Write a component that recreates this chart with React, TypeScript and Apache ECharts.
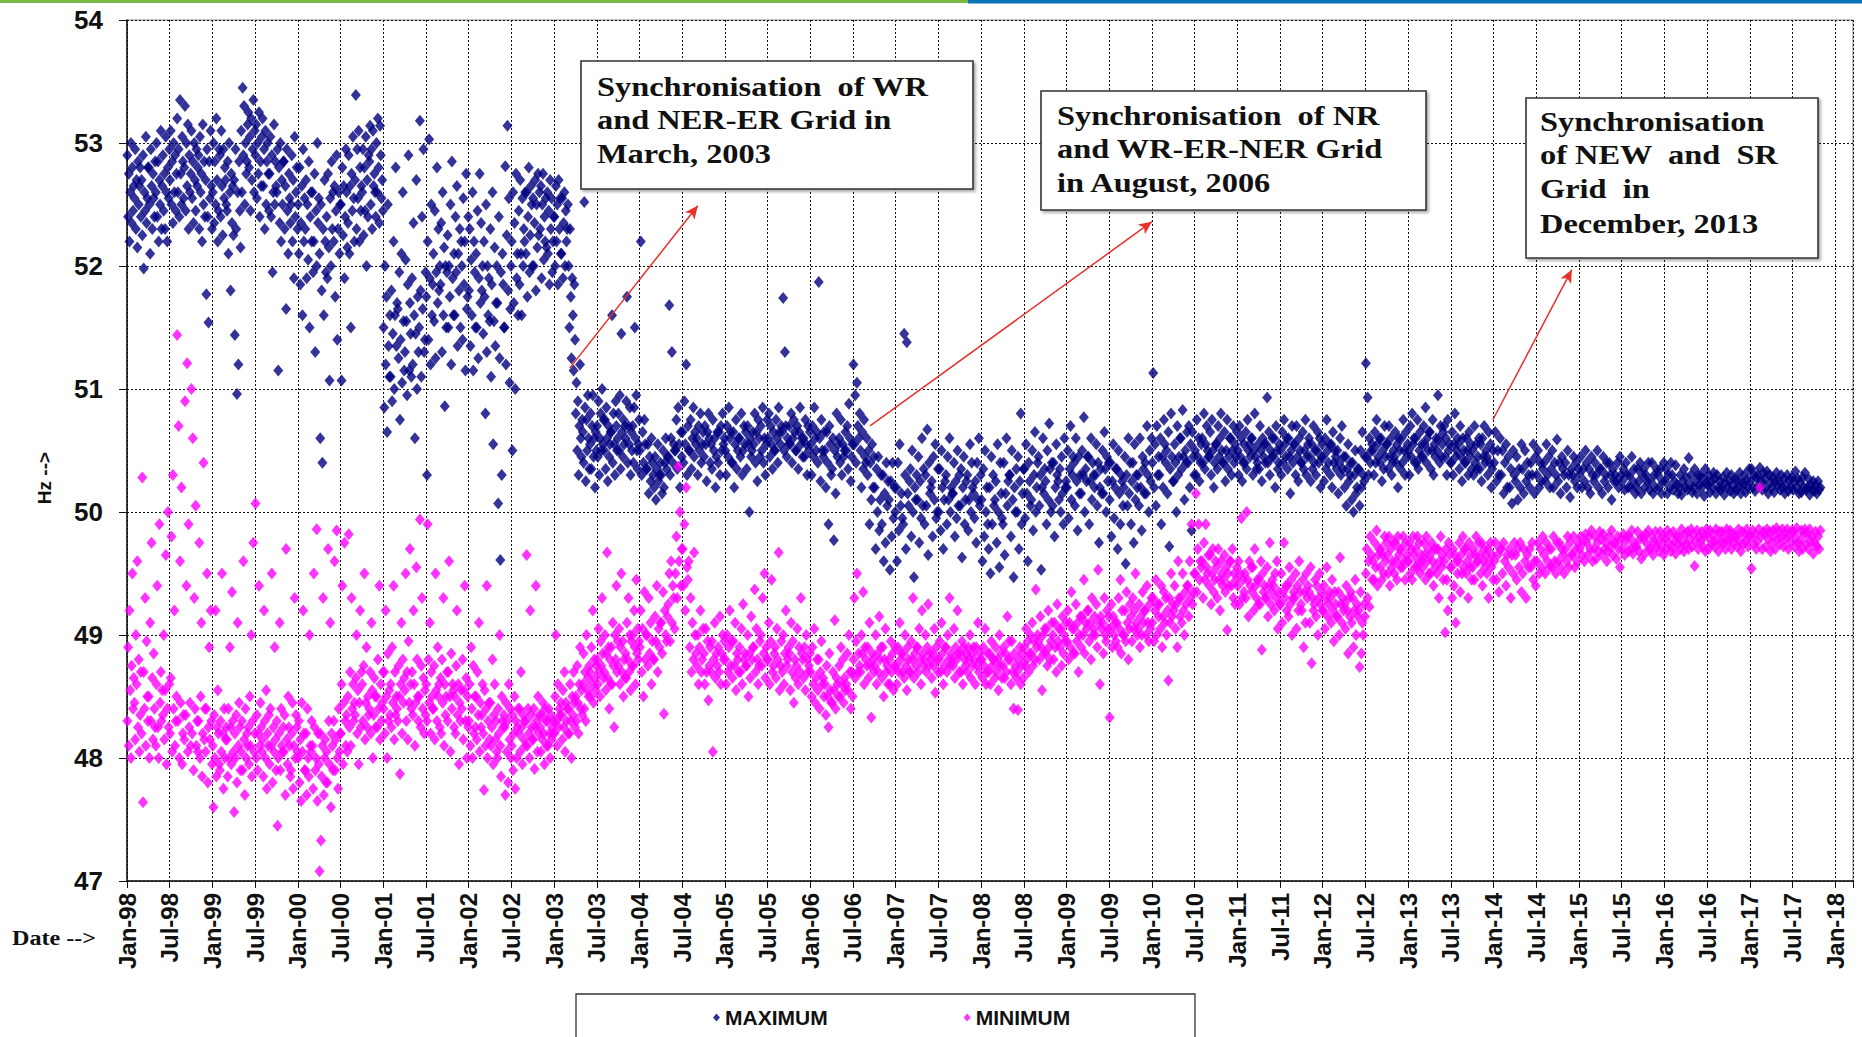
import React, { useEffect, useRef } from "react";
import * as echarts from "echarts";

// ---------- DATA (daily max / min frequency, Hz), grouped by year -> month ----------
const START_YEAR = 1998;

const max1998 = [
  [52.9, 52.4, 52.75, 52.2, 52.6, 53.0, 52.35, 52.8, 52.45, 52.65],
  [52.55, 52.95, 52.3, 52.7, 52.15, 52.85, 52.5, 52.65, 52.8, 52.4],
  [52.7, 52.25, 52.9, 51.98, 52.6, 52.45, 53.05, 52.35, 52.55, 52.8],
  [52.8, 52.5, 52.1, 52.95, 52.65, 52.3, 52.75, 52.55, 52.4, 52.85],
  [52.6, 53.0, 52.4, 52.85, 52.2, 52.7, 52.5, 53.1, 52.3, 52.65],
  [52.9, 52.45, 52.75, 52.3, 53.05, 52.6, 52.2, 52.8, 52.55, 52.95],
  [52.7, 53.1, 52.5, 52.85, 52.35, 53.0, 52.6, 52.9, 52.45, 52.75],
  [53.2, 52.6, 52.95, 52.4, 53.35, 52.75, 52.5, 53.05, 52.85, 52.55],
  [52.8, 53.3, 52.45, 53.0, 52.65, 53.15, 52.3, 52.9, 52.6, 52.75],
  [53.1, 52.55, 52.85, 52.35, 53.0, 52.7, 52.45, 52.95, 52.65, 52.8],
  [52.9, 52.3, 53.05, 52.6, 52.75, 52.2, 53.15, 52.5, 52.85, 52.4],
  [52.7, 51.77, 52.95, 52.4, 51.54, 52.85, 52.55, 53.1, 52.65, 52.3],
];
const max1999 = [
  [52.6, 53.0, 52.35, 52.85, 52.5, 53.2, 52.7, 52.2, 52.45, 52.95],
  [52.9, 52.4, 53.1, 52.65, 52.25, 52.95, 52.55, 52.8, 52.7, 52.5],
  [52.45, 52.85, 52.1, 53.0, 52.6, 51.8, 52.75, 52.35, 52.65, 52.25],
  [52.7, 51.44, 52.95, 52.3, 50.96, 52.6, 51.2, 52.85, 52.45, 52.15],
  [53.1, 52.6, 53.45, 52.9, 53.3, 52.5, 53.0, 52.75, 52.85, 53.15],
  [53.25, 52.8, 53.05, 52.45, 53.2, 52.7, 52.95, 53.35, 52.6, 53.1],
  [52.9, 53.15, 52.55, 53.0, 52.75, 53.25, 52.4, 52.85, 52.65, 53.05],
  [53.2, 52.65, 52.95, 52.3, 53.1, 52.5, 52.85, 53.0, 52.75, 52.45],
  [52.75, 53.05, 52.4, 52.9, 51.95, 52.6, 53.15, 52.5, 52.85, 52.65],
  [52.6, 52.95, 51.15, 52.8, 52.35, 53.0, 52.2, 52.7, 52.5, 52.85],
  [52.85, 52.3, 52.65, 51.65, 52.95, 52.45, 52.1, 52.75, 52.55, 52.35],
  [52.5, 52.9, 52.2, 52.7, 51.9, 53.05, 52.4, 52.6, 52.8, 52.3],
];
const max2000 = [
  [52.5, 52.1, 52.8, 51.85, 52.35, 52.65, 51.6, 52.95, 52.2, 52.55],
  [52.3, 52.7, 51.9, 52.5, 52.05, 52.85, 51.5, 52.4, 52.6, 52.2],
  [52.6, 51.95, 52.2, 52.75, 51.3, 52.45, 52.0, 53.0, 52.35, 52.55],
  [52.1, 50.6, 52.5, 51.8, 50.4, 52.3, 51.6, 52.7, 52.2, 51.95],
  [52.4, 51.9, 52.75, 52.15, 51.07, 52.55, 52.0, 52.85, 52.3, 52.6],
  [52.2, 52.65, 51.75, 52.45, 52.9, 51.4, 52.3, 52.6, 52.1, 52.5],
  [52.5, 51.07, 52.8, 52.25, 52.65, 51.9, 52.4, 52.95, 52.6, 52.15],
  [52.35, 52.9, 52.1, 52.65, 51.5, 52.75, 52.45, 53.05, 52.55, 52.2],
  [52.7, 53.39, 52.3, 52.95, 52.55, 53.1, 52.2, 52.8, 52.45, 52.65],
  [52.6, 52.95, 52.25, 52.8, 52.45, 53.05, 52.0, 52.7, 52.4, 52.9],
  [52.85, 53.14, 52.5, 52.95, 52.3, 53.1, 52.65, 52.75, 52.6, 52.4],
  [53.0, 52.6, 53.2, 52.8, 52.35, 53.14, 52.9, 52.55, 52.7, 52.45],
];
const max2001 = [
  [51.5, 50.85, 52.0, 51.2, 51.75, 50.65, 52.5, 51.35, 51.1, 51.6],
  [51.1, 51.8, 50.9, 51.45, 52.2, 51.0, 51.6, 52.8, 51.35, 51.7],
  [51.65, 51.25, 51.95, 50.75, 51.4, 52.1, 51.05, 52.6, 51.55, 51.15],
  [51.3, 52.05, 51.55, 50.95, 51.85, 52.9, 51.15, 51.7, 51.45, 51.1],
  [51.9, 51.2, 52.35, 51.6, 50.6, 51.45, 52.7, 51.0, 51.75, 51.3],
  [51.5, 53.18, 51.8, 51.1, 52.4, 51.65, 52.95, 51.3, 51.4, 51.95],
  [51.75, 50.3, 52.2, 51.4, 53.03, 51.9, 51.2, 52.5, 51.6, 51.85],
  [52.1, 51.55, 52.45, 51.25, 51.95, 52.8, 51.7, 52.3, 51.8, 52.0],
  [51.85, 52.35, 51.3, 52.6, 51.6, 52.15, 50.86, 52.0, 51.5, 51.95],
  [52.25, 51.5, 52.0, 51.75, 52.5, 51.2, 52.85, 51.9, 51.6, 52.1],
  [51.6, 52.4, 51.95, 52.65, 51.35, 52.1, 51.8, 52.3, 51.5, 52.2],
  [52.0, 51.4, 52.55, 51.85, 52.2, 51.15, 52.75, 51.65, 51.75, 52.4],
];
const max2002 = [
  [51.8, 52.3, 51.35, 52.05, 51.6, 52.6, 51.15, 52.2, 51.95, 51.5],
  [52.1, 51.5, 52.45, 51.25, 51.9, 52.75, 51.7, 52.35, 51.8, 52.0],
  [51.45, 52.2, 51.75, 50.8, 52.5, 51.3, 52.0, 51.6, 51.9, 51.55],
  [52.3, 51.1, 51.85, 52.6, 50.55, 51.55, 52.15, 51.35, 51.7, 52.0],
  [51.7, 50.07, 52.4, 51.25, 49.61, 51.95, 50.3, 52.1, 51.85, 51.5],
  [51.5, 52.81, 51.2, 52.25, 53.14, 51.8, 52.55, 51.05, 51.65, 52.0],
  [52.2, 50.5, 52.6, 51.7, 52.35, 51.0, 52.75, 51.9, 52.1, 51.6],
  [52.45, 51.85, 52.7, 52.1, 51.6, 52.55, 52.0, 52.3, 52.2, 52.6],
  [52.1, 52.6, 51.75, 52.4, 52.8, 51.95, 52.25, 52.65, 52.5, 52.0],
  [52.55, 52.0, 52.35, 52.7, 51.8, 52.5, 52.15, 52.75, 52.25, 52.6],
  [52.3, 52.65, 51.9, 52.5, 52.75, 52.05, 52.4, 52.2, 52.55, 52.15],
  [52.6, 52.1, 52.45, 51.85, 52.7, 52.3, 52.55, 51.95, 52.2, 52.4],
];
const max2003 = [
  [52.4, 52.0, 52.65, 52.2, 52.5, 51.85, 52.7, 52.3, 52.55, 52.1],
  [52.1, 52.55, 51.9, 52.35, 52.6, 52.0, 52.45, 52.2, 52.3, 52.5],
  [52.0, 51.5, 52.3, 51.75, 51.25, 51.9, 51.6, 51.15, 51.85, 51.4],
  [50.8, 51.05, 50.5, 50.9, 50.3, 50.7, 51.2, 50.6, 50.45, 50.75],
  [50.65, 50.4, 52.52, 50.85, 50.25, 50.75, 50.5, 50.95, 50.6, 50.35],
  [50.55, 50.8, 50.35, 50.7, 50.95, 50.45, 50.6, 50.2, 50.65, 50.5],
  [50.7, 50.45, 50.9, 50.3, 50.6, 50.8, 50.5, 51.0, 50.55, 50.75],
  [50.5, 50.75, 50.35, 50.85, 50.6, 50.25, 50.7, 50.45, 50.55, 50.65],
  [50.65, 51.6, 50.4, 50.8, 50.55, 50.3, 50.9, 50.7, 50.5, 50.6],
  [50.8, 50.5, 50.95, 50.35, 51.45, 50.65, 50.45, 50.75, 50.55, 50.7],
  [50.6, 50.9, 51.75, 50.4, 50.7, 50.55, 50.85, 50.3, 50.65, 50.5],
  [50.7, 50.4, 50.85, 51.5, 50.6, 50.95, 50.5, 50.35, 50.55, 50.75],
];
const max2004 = [
  [50.5, 52.2, 50.3, 50.65, 50.4, 50.75, 50.55, 50.35],
  [50.35, 50.55, 50.15, 50.45, 50.25, 50.6, 50.4, 50.3],
  [50.2, 50.45, 50.1, 50.35, 50.55, 50.25, 50.3, 50.4],
  [50.3, 50.15, 50.5, 50.2, 50.4, 50.6, 50.35, 50.45],
  [50.45, 51.68, 50.3, 50.6, 51.3, 50.4, 50.55, 50.5],
  [50.5, 50.75, 50.35, 50.85, 50.55, 50.2, 50.65, 50.45],
  [50.65, 50.4, 50.9, 50.55, 51.2, 50.3, 50.7, 50.5],
  [50.5, 50.75, 50.35, 50.6, 50.85, 50.45, 50.65, 50.55],
  [50.6, 50.3, 50.7, 50.5, 50.8, 50.4, 50.55, 50.65],
  [50.45, 50.7, 50.55, 50.25, 50.65, 50.8, 50.6, 50.4],
  [50.55, 50.35, 50.75, 50.5, 50.6, 50.2, 50.45, 50.65],
  [50.4, 50.65, 50.3, 50.7, 50.5, 50.8, 50.55, 50.6],
];
const max2005 = [
  [50.5, 50.3, 50.7, 50.45, 50.85, 50.6, 50.65, 50.4],
  [50.4, 50.65, 50.2, 50.55, 50.75, 50.35, 50.5, 50.6],
  [50.6, 50.45, 50.8, 50.3, 50.5, 50.7, 50.55, 50.65],
  [50.35, 50.7, 50.55, 50.0, 50.6, 50.45, 50.5, 50.65],
  [50.55, 50.8, 50.4, 50.65, 50.25, 50.75, 50.6, 50.45],
  [50.7, 50.5, 50.85, 50.4, 50.6, 50.3, 50.55, 50.75],
  [50.6, 50.8, 50.45, 50.7, 50.55, 50.35, 50.65, 50.5],
  [50.5, 50.75, 50.6, 50.4, 50.85, 50.65, 50.55, 50.7],
  [50.65, 51.74, 50.5, 51.3, 50.7, 50.45, 50.6, 50.55],
  [50.7, 50.55, 50.8, 50.4, 50.6, 50.75, 50.65, 50.5],
  [50.5, 50.7, 50.35, 50.65, 50.85, 50.55, 50.6, 50.45],
  [50.6, 50.45, 50.75, 50.55, 50.3, 50.7, 50.5, 50.65],
];
const max2006 = [
  [50.55, 50.3, 50.7, 50.45, 50.85, 50.6, 50.5, 50.65],
  [50.4, 51.87, 50.6, 50.25, 50.75, 50.5, 50.45, 50.65],
  [50.5, 50.2, 50.65, 50.4, 49.9, 50.7, 50.55, 50.3],
  [50.35, 50.6, 49.77, 50.5, 50.15, 50.8, 50.45, 50.55],
  [50.6, 50.4, 50.75, 50.3, 50.55, 50.45, 50.5, 50.65],
  [50.5, 50.7, 50.35, 50.88, 50.6, 50.25, 50.45, 50.55],
  [51.2, 50.55, 50.95, 50.4, 51.05, 50.7, 50.6, 50.8],
  [50.5, 50.2, 50.65, 50.35, 50.75, 50.45, 50.4, 50.6],
  [50.3, 50.5, 49.9, 50.4, 50.1, 50.55, 50.2, 50.45],
  [50.2, 49.7, 50.35, 50.0, 50.45, 49.85, 50.1, 50.3],
  [49.9, 50.3, 49.6, 50.15, 49.75, 50.4, 50.05, 50.25],
  [50.1, 49.53, 50.25, 49.8, 50.4, 49.95, 50.2, 50.0],
];
const max2007 = [
  [50.2, 49.6, 50.4, 49.85, 50.55, 50.05, 50.15, 49.95],
  [49.9, 51.45, 50.3, 49.7, 51.38, 50.15, 50.05, 50.25],
  [50.35, 49.8, 50.5, 50.0, 49.47, 50.2, 50.1, 50.3],
  [50.1, 50.45, 49.75, 50.25, 49.95, 50.6, 50.05, 50.35],
  [49.9, 50.3, 50.05, 50.67, 49.65, 50.4, 50.15, 50.2],
  [50.25, 49.8, 50.45, 50.1, 50.55, 49.95, 50.0, 50.35],
  [50.0, 50.35, 49.85, 50.5, 50.2, 49.7, 50.1, 50.25],
  [50.3, 49.9, 50.45, 50.1, 50.6, 50.0, 50.2, 50.15],
  [50.15, 50.4, 49.8, 50.25, 49.95, 50.5, 50.05, 50.3],
  [50.05, 50.35, 49.63, 50.2, 50.45, 49.9, 50.1, 50.25],
  [50.3, 49.85, 50.1, 50.55, 50.0, 50.4, 50.2, 50.15],
  [49.95, 50.25, 49.75, 50.4, 50.1, 50.6, 50.05, 50.3],
];
const max2008 = [
  [50.1, 49.6, 50.35, 49.8, 50.5, 50.0, 50.2, 49.9],
  [49.7, 50.2, 49.5, 50.45, 49.9, 50.3, 50.05, 50.1],
  [50.25, 49.75, 50.55, 50.0, 49.55, 50.4, 50.15, 49.95],
  [49.9, 50.4, 49.65, 50.15, 50.6, 50.05, 50.25, 50.3],
  [50.3, 49.8, 50.5, 50.1, 49.47, 50.2, 50.0, 50.35],
  [50.0, 50.45, 49.7, 50.25, 50.8, 49.9, 50.15, 50.35],
  [50.35, 49.95, 50.55, 50.15, 49.6, 50.4, 50.25, 50.05],
  [50.1, 50.5, 49.85, 50.3, 50.65, 50.0, 50.2, 50.4],
  [50.45, 50.05, 50.3, 49.53, 50.2, 50.6, 50.15, 50.35],
  [50.25, 49.9, 50.5, 50.1, 50.72, 50.35, 50.0, 50.4],
  [50.05, 50.4, 49.8, 50.2, 50.55, 50.3, 50.25, 50.1],
  [50.35, 50.0, 50.45, 50.15, 49.9, 50.6, 50.2, 50.25],
];
const max2009 = [
  [50.2, 50.5, 49.95, 50.35, 50.7, 50.1, 50.3, 50.45],
  [50.4, 50.05, 50.6, 50.25, 49.85, 50.45, 50.15, 50.3],
  [50.15, 50.5, 50.3, 50.77, 50.0, 50.35, 50.25, 50.45],
  [50.45, 49.9, 50.25, 50.6, 50.1, 50.4, 50.3, 50.2],
  [50.3, 50.55, 50.05, 50.4, 49.75, 50.2, 50.35, 50.15],
  [50.5, 50.15, 50.65, 50.35, 50.0, 50.45, 50.25, 50.4],
  [50.1, 50.4, 49.8, 50.25, 50.55, 49.95, 50.2, 50.35],
  [50.35, 49.7, 50.5, 50.15, 49.9, 50.3, 50.25, 50.05],
  [50.2, 50.45, 49.58, 50.3, 50.05, 50.6, 50.15, 50.4],
  [49.9, 50.25, 50.4, 49.75, 50.55, 50.1, 50.3, 50.2],
  [50.3, 50.05, 50.6, 50.2, 49.85, 50.45, 50.35, 50.15],
  [50.4, 50.15, 50.7, 50.3, 50.0, 50.5, 50.25, 50.6],
];
const max2010 = [
  [50.4, 51.13, 50.2, 50.55, 50.05, 50.7, 50.3, 50.45],
  [50.3, 50.6, 49.9, 50.45, 50.2, 50.75, 50.55, 50.4],
  [50.5, 50.15, 50.65, 49.72, 50.35, 50.8, 50.45, 50.25],
  [50.25, 50.55, 50.4, 50.0, 50.7, 50.3, 50.45, 50.6],
  [50.6, 50.35, 50.83, 50.45, 50.1, 50.5, 50.4, 50.65],
  [50.4, 50.7, 50.2, 50.55, 49.85, 50.65, 50.45, 50.3],
  [50.5, 50.3, 50.75, 50.45, 50.6, 50.25, 50.4, 50.55],
  [50.6, 50.4, 50.8, 50.35, 50.55, 50.7, 50.5, 50.45],
  [50.45, 50.65, 50.3, 50.75, 50.5, 50.2, 50.4, 50.55],
  [50.55, 50.35, 50.7, 50.45, 50.6, 50.8, 50.5, 50.4],
  [50.4, 50.65, 50.25, 50.5, 50.75, 50.35, 50.45, 50.6],
  [50.6, 50.3, 50.5, 50.7, 50.4, 50.55, 50.45, 50.65],
];
const max2011 = [
  [50.5, 50.3, 50.7, 50.45, 50.6, 50.25, 50.4, 50.55],
  [50.4, 50.65, 50.35, 50.75, 50.5, 50.55, 50.45, 50.6],
  [50.6, 50.3, 50.5, 50.8, 50.45, 50.35, 50.4, 50.55],
  [50.35, 50.7, 50.5, 50.25, 50.6, 50.45, 50.55, 50.4],
  [50.55, 50.93, 50.4, 50.65, 50.3, 50.5, 50.45, 50.6],
  [50.45, 50.6, 50.2, 50.7, 50.5, 50.35, 50.4, 50.55],
  [50.5, 50.3, 50.65, 50.4, 50.75, 50.55, 50.45, 50.6],
  [50.35, 50.6, 50.45, 50.15, 50.5, 50.7, 50.4, 50.55],
  [50.55, 50.3, 50.7, 50.45, 50.25, 50.6, 50.5, 50.4],
  [50.4, 50.65, 50.35, 50.5, 50.75, 50.3, 50.45, 50.55],
  [50.6, 50.45, 50.25, 50.55, 50.35, 50.7, 50.4, 50.5],
  [50.3, 50.5, 50.65, 50.4, 50.6, 50.2, 50.45, 50.55],
];
const max2012 = [
  [50.45, 50.25, 50.6, 50.35, 50.75, 50.5, 50.4, 50.55],
  [50.3, 50.55, 50.2, 50.65, 50.4, 50.5, 50.45, 50.35],
  [50.5, 50.15, 50.4, 50.6, 50.3, 50.7, 50.35, 50.45],
  [50.2, 50.45, 50.05, 50.35, 50.55, 50.25, 50.3, 50.4],
  [50.1, 50.4, 50.0, 50.3, 50.5, 50.15, 50.2, 50.35],
  [50.35, 50.05, 50.5, 50.2, 50.65, 50.3, 50.25, 50.45],
  [51.21, 50.45, 50.93, 50.3, 50.6, 50.4, 50.5, 50.55],
  [50.5, 50.3, 50.65, 50.4, 50.75, 50.55, 50.45, 50.6],
  [50.4, 50.6, 50.25, 50.5, 50.35, 50.7, 50.45, 50.55],
  [50.55, 50.35, 50.7, 50.45, 50.6, 50.3, 50.4, 50.5],
  [50.45, 50.65, 50.4, 50.55, 50.2, 50.6, 50.5, 50.35],
  [50.6, 50.4, 50.75, 50.5, 50.3, 50.65, 50.45, 50.55],
];
const max2013 = [
  [50.5, 50.3, 50.7, 50.45, 50.8, 50.55, 50.6, 50.4],
  [50.6, 50.4, 50.75, 50.35, 50.5, 50.65, 50.45, 50.55],
  [50.45, 50.7, 50.55, 50.85, 50.4, 50.6, 50.5, 50.65],
  [50.65, 50.35, 50.5, 50.75, 50.3, 50.55, 50.45, 50.6],
  [50.5, 50.95, 50.6, 50.4, 50.7, 50.45, 50.55, 50.65],
  [50.7, 50.45, 50.6, 50.3, 50.75, 50.5, 50.55, 50.4],
  [50.4, 50.65, 50.3, 50.55, 50.8, 50.45, 50.5, 50.6],
  [50.55, 50.35, 50.7, 50.45, 50.25, 50.6, 50.5, 50.4],
  [50.4, 50.6, 50.5, 50.3, 50.65, 50.45, 50.55, 50.35],
  [50.5, 50.3, 50.7, 50.4, 50.55, 50.35, 50.45, 50.6],
  [50.35, 50.55, 50.25, 50.6, 50.45, 50.7, 50.4, 50.5],
  [50.45, 50.3, 50.65, 50.4, 50.55, 50.2, 50.35, 50.5],
];
const max2014 = [
  [50.4, 50.65, 50.25, 50.5, 50.3, 50.6],
  [50.3, 50.5, 50.15, 50.4, 50.55, 50.2],
  [50.45, 50.2, 50.35, 50.07, 50.5, 50.3],
  [50.25, 50.45, 50.1, 50.35, 50.2, 50.55],
  [50.35, 50.15, 50.5, 50.25, 50.4, 50.3],
  [50.2, 50.4, 50.3, 50.55, 50.15, 50.45],
  [50.3, 50.5, 50.2, 50.4, 50.25, 50.35],
  [50.4, 50.25, 50.55, 50.3, 50.45, 50.2],
  [50.35, 50.5, 50.2, 50.4, 50.3, 50.59],
  [50.25, 50.4, 50.15, 50.45, 50.35, 50.3],
  [50.4, 50.2, 50.5, 50.3, 50.12, 50.35],
  [50.3, 50.45, 50.25, 50.4, 50.2, 50.35],
];
const max2015 = [
  [50.3, 50.45, 50.2, 50.35, 50.25, 50.5],
  [50.4, 50.2, 50.35, 50.15, 50.45, 50.3],
  [50.25, 50.4, 50.3, 50.5, 50.2, 50.35],
  [50.35, 50.15, 50.45, 50.25, 50.3, 50.4],
  [50.2, 50.4, 50.3, 50.1, 50.35, 50.25],
  [50.3, 50.25, 50.4, 50.2, 50.45, 50.3],
  [50.25, 50.35, 50.18, 50.4, 50.3, 50.2],
  [50.3, 50.2, 50.45, 50.25, 50.35, 50.15],
  [50.2, 50.35, 50.25, 50.4, 50.15, 50.3],
  [50.35, 50.2, 50.3, 50.25, 50.4, 50.18],
  [50.25, 50.4, 50.15, 50.3, 50.2, 50.35],
  [50.3, 50.2, 50.35, 50.15, 50.25, 50.4],
];
const max2016 = [
  [50.25, 50.35, 50.15, 50.3, 50.2, 50.4],
  [50.3, 50.18, 50.25, 50.38, 50.22, 50.15],
  [50.2, 50.3, 50.14, 50.25, 50.35, 50.2],
  [50.28, 50.18, 50.44, 50.22, 50.3, 50.16],
  [50.2, 50.35, 50.25, 50.15, 50.3, 50.22],
  [50.3, 50.2, 50.27, 50.13, 50.35, 50.24],
  [50.22, 50.3, 50.16, 50.25, 50.2, 50.32],
  [50.27, 50.15, 50.3, 50.2, 50.25, 50.18],
  [50.2, 50.28, 50.14, 50.24, 50.32, 50.2],
  [50.25, 50.17, 50.3, 50.22, 50.15, 50.27],
  [50.18, 50.26, 50.2, 50.32, 50.15, 50.24],
  [50.22, 50.3, 50.16, 50.26, 50.2, 50.35],
];
const max2017 = [
  [50.25, 50.35, 50.2, 50.3, 50.17, 50.28],
  [50.3, 50.22, 50.36, 50.25, 50.18, 50.32],
  [50.27, 50.2, 50.33, 50.15, 50.3, 50.24],
  [50.2, 50.28, 50.16, 50.25, 50.32, 50.22],
  [50.25, 50.18, 50.3, 50.2, 50.27, 50.15],
  [50.22, 50.3, 50.17, 50.26, 50.2, 50.28],
  [50.18, 50.25, 50.33, 50.2, 50.27, 50.15],
  [50.24, 50.16, 50.28, 50.2, 50.32, 50.18],
  [50.2, 50.27, 50.14, 50.22, 50.18, 50.25],
  [50.17, 50.22, 50.15, 50.25, 50.18, 50.2],
];

const min1998 = [
  [48.3, 48.9, 48.1, 49.2, 48.55, 48.0, 48.75, 49.5, 48.4, 48.65],
  [48.45, 48.15, 49.0, 48.6, 49.6, 48.25, 48.8, 48.05, 48.35, 48.7],
  [48.2, 50.28, 47.64, 48.7, 48.4, 49.3, 48.1, 48.95, 48.5, 48.3],
  [48.5, 48.0, 49.1, 48.3, 49.75, 48.65, 48.15, 48.85, 48.4, 48.25],
  [48.1, 48.6, 49.4, 48.25, 48.0, 49.9, 48.45, 48.7, 48.3, 48.55],
  [48.35, 49.0, 48.15, 48.55, 49.65, 47.95, 48.4, 50.0, 48.25, 48.6],
  [48.2, 48.65, 49.8, 48.05, 50.3, 48.4, 49.2, 48.1, 48.3, 48.5],
  [51.44, 48.3, 50.7, 48.0, 49.6, 48.45, 50.2, 47.95, 48.2, 48.35],
  [48.15, 50.9, 48.35, 49.4, 51.21, 48.05, 49.9, 48.25, 48.45, 48.1],
  [51.0, 48.2, 50.6, 47.9, 49.3, 48.4, 50.05, 48.1, 48.3, 48.05],
  [48.3, 49.75, 48.0, 48.5, 49.1, 47.85, 48.2, 50.4, 48.15, 48.4],
  [48.05, 48.4, 49.5, 47.8, 48.25, 48.9, 48.15, 49.2, 48.3, 47.95],
];
const min1999 = [
  [48.1, 47.6, 48.35, 48.0, 49.2, 47.85, 48.25, 48.55, 48.2, 47.95],
  [47.9, 48.3, 48.05, 49.5, 48.2, 47.75, 48.4, 48.0, 48.15, 48.25],
  [48.15, 47.85, 48.4, 48.0, 48.9, 48.25, 47.95, 49.35, 48.3, 48.05],
  [47.56, 48.2, 48.0, 48.35, 47.8, 49.1, 48.1, 48.45, 48.25, 47.9],
  [48.05, 48.3, 47.9, 49.6, 48.15, 47.7, 48.4, 48.0, 48.2, 48.1],
  [48.25, 47.95, 48.5, 48.1, 49.0, 47.85, 48.3, 49.75, 48.05, 48.2],
  [50.07, 48.0, 48.35, 47.9, 48.2, 49.4, 48.1, 48.45, 48.25, 48.05],
  [48.15, 47.85, 49.2, 48.3, 48.0, 48.55, 47.75, 48.2, 48.1, 48.35],
  [47.95, 48.4, 48.1, 49.5, 47.8, 48.25, 48.05, 48.9, 48.15, 47.9],
  [48.3, 47.45, 48.0, 48.2, 49.1, 47.9, 48.4, 48.1, 48.05, 48.25],
  [48.05, 48.35, 47.7, 49.7, 48.15, 47.95, 48.5, 48.25, 48.1, 47.85],
  [47.9, 48.2, 48.45, 47.75, 48.1, 49.3, 48.0, 48.35, 48.25, 48.05],
];
const min2000 = [
  [48.0, 48.3, 47.8, 48.15, 47.65, 48.45, 48.05, 49.2, 48.2, 47.9],
  [47.9, 48.2, 47.7, 48.4, 48.0, 47.85, 49.0, 48.1, 48.05, 48.3],
  [48.1, 47.75, 49.5, 48.25, 47.9, 48.0, 49.86, 47.65, 48.2, 47.95],
  [47.08, 48.2, 47.33, 47.85, 48.1, 49.3, 47.7, 48.0, 48.15, 47.8],
  [48.05, 47.8, 49.7, 48.3, 47.95, 49.1, 47.6, 48.2, 48.1, 47.9],
  [48.3, 49.6, 47.9, 48.15, 49.85, 48.0, 47.75, 48.4, 48.05, 48.2],
  [48.2, 48.6, 49.4, 47.95, 48.45, 49.75, 48.3, 48.1, 48.35, 48.05],
  [48.5, 49.82, 48.25, 48.7, 48.1, 49.3, 48.4, 48.6, 48.3, 48.45],
  [48.35, 48.65, 49.0, 48.2, 48.55, 47.95, 48.45, 49.2, 48.25, 48.7],
  [48.6, 48.3, 48.75, 49.5, 48.15, 48.45, 48.9, 48.25, 48.5, 48.35],
  [48.4, 48.7, 48.2, 49.1, 48.55, 48.0, 48.35, 48.65, 48.5, 48.25],
  [48.5, 48.25, 48.8, 48.4, 49.4, 48.15, 48.6, 48.3, 48.45, 48.7],
];
const min2001 = [
  [48.4, 48.7, 48.2, 49.2, 48.5, 48.0, 48.85, 48.3, 48.55, 48.35],
  [48.6, 48.25, 48.9, 48.45, 49.4, 48.15, 48.7, 48.35, 48.5, 48.4],
  [48.3, 48.75, 48.5, 47.87, 48.6, 49.1, 48.2, 48.8, 48.45, 48.65],
  [48.55, 49.5, 48.3, 48.7, 48.15, 48.95, 48.45, 49.7, 48.6, 48.4],
  [48.7, 48.35, 49.2, 48.6, 48.1, 48.45, 49.55, 48.8, 48.5, 48.3],
  [48.5, 49.94, 48.25, 48.75, 49.3, 48.4, 48.65, 48.2, 48.55, 48.35],
  [48.6, 48.3, 49.9, 48.8, 48.45, 49.1, 48.2, 48.7, 48.5, 48.4],
  [48.4, 48.75, 48.15, 49.5, 48.55, 48.3, 48.9, 48.5, 48.6, 48.25],
  [48.65, 48.2, 48.8, 48.45, 49.3, 48.1, 48.6, 48.35, 48.5, 48.7],
  [48.3, 48.7, 49.6, 48.5, 48.05, 48.85, 48.4, 48.6, 48.55, 48.25],
  [48.5, 48.2, 48.75, 49.2, 48.35, 48.6, 47.95, 48.45, 48.3, 48.55],
  [48.4, 48.8, 48.15, 48.55, 49.4, 48.3, 48.65, 48.0, 48.5, 48.25],
];
const min2002 = [
  [48.3, 48.6, 48.1, 48.9, 48.4, 48.0, 48.75, 48.2, 48.5, 48.25],
  [48.5, 48.15, 48.7, 48.35, 49.1, 48.05, 48.45, 48.25, 48.35, 48.6],
  [48.2, 47.74, 48.55, 48.1, 48.4, 49.4, 48.0, 48.3, 48.45, 48.15],
  [48.45, 48.1, 48.25, 48.8, 47.95, 48.35, 48.6, 48.15, 48.3, 48.05],
  [48.0, 48.4, 48.2, 49.0, 48.1, 47.85, 48.5, 48.3, 48.25, 48.35],
  [48.25, 47.7, 48.45, 48.05, 48.3, 47.8, 48.6, 48.15, 48.4, 48.0],
  [48.1, 48.35, 47.9, 48.2, 48.5, 47.75, 48.3, 48.0, 48.25, 48.4],
  [48.2, 48.4, 48.05, 48.7, 48.25, 47.95, 48.35, 48.15, 48.3, 48.1],
  [48.3, 49.65, 48.1, 48.4, 48.2, 48.0, 49.2, 48.35, 48.25, 48.15],
  [48.15, 48.4, 47.91, 48.25, 49.4, 48.3, 48.05, 48.5, 48.2, 48.35],
  [48.25, 48.05, 48.35, 48.15, 48.45, 48.2, 47.95, 48.4, 48.3, 48.1],
  [48.3, 48.1, 48.4, 48.2, 48.0, 48.35, 48.15, 48.25, 48.2, 48.3],
];
const min2003 = [
  [48.2, 48.5, 49.0, 48.3, 48.1, 48.6, 48.25, 48.4, 48.35, 48.45],
  [48.35, 48.15, 48.55, 48.25, 48.7, 48.05, 48.45, 48.3, 48.4, 48.2],
  [48.4, 48.2, 48.6, 48.3, 48.0, 48.5, 48.35, 48.7, 48.45, 48.25],
  [48.5, 48.3, 48.75, 48.45, 48.2, 48.6, 48.9, 48.4, 48.55, 48.35],
  [48.6, 48.85, 48.4, 48.7, 48.3, 49.0, 48.55, 48.65, 48.5, 48.75],
  [48.7, 48.5, 48.9, 48.6, 49.2, 48.45, 48.8, 48.65, 48.55, 48.75],
  [48.8, 48.6, 49.05, 48.7, 48.5, 48.95, 48.75, 49.3, 48.85, 48.65],
  [48.7, 49.0, 48.55, 48.85, 49.67, 48.65, 48.9, 48.4, 48.8, 48.6],
  [48.9, 48.6, 49.1, 48.75, 48.25, 49.0, 48.8, 49.4, 48.7, 48.95],
  [48.75, 49.05, 48.6, 48.9, 49.5, 48.7, 48.95, 48.5, 48.8, 48.65],
  [48.85, 48.65, 49.1, 48.8, 49.3, 48.7, 49.0, 48.55, 48.95, 48.75],
  [49.0, 48.75, 49.2, 48.9, 48.6, 49.45, 48.85, 49.05, 48.8, 48.95],
];
const min2004 = [
  [48.9, 49.2, 48.7, 49.05, 48.5, 49.35, 48.8, 49.0],
  [49.0, 48.75, 49.3, 48.85, 49.1, 48.6, 48.95, 48.8],
  [48.8, 49.15, 48.95, 49.4, 48.7, 49.05, 48.9, 49.1],
  [49.1, 48.85, 49.35, 48.36, 49.2, 49.0, 48.95, 49.15],
  [49.25, 49.5, 48.95, 49.6, 49.1, 49.4, 49.3, 49.05],
  [49.5, 49.8, 49.3, 50.37, 49.6, 50.0, 49.4, 49.7],
  [49.7, 49.4, 49.9, 49.2, 50.2, 49.55, 49.45, 49.6],
  [48.9, 49.3, 48.7, 49.1, 48.8, 49.67, 49.0, 48.85],
  [48.75, 49.0, 48.6, 48.9, 49.2, 48.7, 48.8, 49.05],
  [48.85, 48.6, 49.05, 48.7, 48.95, 48.47, 48.75, 48.9],
  [48.7, 48.95, 48.05, 48.8, 49.1, 48.65, 48.85, 48.75],
  [48.9, 48.7, 49.15, 48.6, 48.85, 49.0, 48.8, 48.95],
];
const min2005 = [
  [48.8, 48.6, 49.0, 48.7, 48.9, 49.2, 48.75, 48.95],
  [48.65, 48.95, 48.75, 49.1, 48.55, 48.85, 48.8, 48.7],
  [48.9, 48.7, 49.05, 48.6, 49.25, 48.8, 48.85, 48.75],
  [48.75, 49.0, 48.5, 48.85, 48.65, 49.15, 48.8, 48.9],
  [48.9, 49.37, 48.7, 49.05, 48.8, 48.6, 48.75, 48.95],
  [49.0, 48.75, 49.3, 48.85, 49.5, 48.65, 48.9, 48.8],
  [48.8, 49.1, 48.6, 48.95, 49.45, 48.7, 48.75, 48.85],
  [48.9, 48.65, 49.05, 48.8, 49.67, 48.55, 48.75, 48.95],
  [48.7, 49.0, 48.6, 48.85, 49.2, 48.75, 48.8, 48.9],
  [48.85, 48.55, 49.1, 48.7, 48.95, 48.45, 48.8, 48.65],
  [48.75, 49.05, 48.6, 48.9, 48.7, 49.3, 48.85, 48.8],
  [48.65, 48.9, 48.55, 49.0, 48.8, 48.7, 48.75, 48.85],
];
const min2006 = [
  [48.7, 48.5, 48.9, 48.6, 49.05, 48.45, 48.65, 48.8],
  [48.55, 48.8, 48.4, 48.7, 48.95, 48.6, 48.65, 48.5],
  [48.6, 48.35, 48.75, 48.5, 48.25, 48.85, 48.55, 48.45],
  [48.45, 48.7, 48.55, 49.12, 48.4, 48.65, 48.6, 48.5],
  [48.75, 48.5, 48.9, 48.6, 48.8, 48.45, 48.65, 48.55],
  [48.6, 48.85, 48.55, 49.0, 48.7, 48.4, 48.7, 48.5],
  [48.8, 49.3, 48.65, 48.95, 49.5, 48.7, 48.85, 48.75],
  [48.7, 49.0, 48.85, 49.35, 48.6, 48.9, 48.8, 48.75],
  [48.9, 48.65, 49.1, 48.75, 48.33, 48.85, 48.8, 48.7],
  [48.75, 49.0, 48.6, 48.85, 48.7, 49.15, 48.8, 48.9],
  [48.65, 48.9, 48.5, 48.8, 49.05, 48.7, 48.75, 48.6],
  [48.8, 48.6, 48.95, 48.7, 48.85, 48.55, 48.75, 48.9],
];
const min2007 = [
  [48.75, 48.6, 48.9, 48.7, 49.1, 48.8, 48.85, 48.7],
  [48.85, 48.65, 49.0, 48.75, 48.55, 48.9, 48.8, 48.7],
  [48.7, 48.95, 48.8, 49.3, 48.65, 48.85, 48.75, 48.9],
  [48.9, 48.7, 49.05, 48.8, 48.6, 49.2, 48.85, 48.75],
  [48.8, 49.0, 48.7, 48.9, 49.25, 48.75, 48.85, 48.8],
  [48.65, 48.85, 48.75, 49.05, 48.53, 48.9, 48.8, 48.7],
  [48.8, 48.95, 48.7, 49.1, 48.85, 48.6, 48.75, 48.9],
  [48.9, 48.7, 49.0, 48.8, 49.3, 48.75, 48.85, 48.8],
  [48.75, 49.05, 48.65, 48.9, 48.8, 49.2, 48.85, 48.7],
  [48.85, 48.7, 48.95, 48.6, 48.9, 48.8, 48.75, 48.85],
  [48.7, 48.9, 48.8, 49.0, 48.65, 48.85, 48.75, 48.9],
  [48.8, 48.6, 48.9, 48.75, 49.1, 48.7, 48.85, 48.8],
];
const min2008 = [
  [48.8, 48.65, 48.9, 48.75, 49.05, 48.6, 48.7, 48.85],
  [48.7, 48.85, 48.6, 48.95, 48.75, 48.8, 48.8, 48.65],
  [48.9, 48.7, 48.8, 48.55, 49.0, 48.75, 48.85, 48.65],
  [48.75, 48.9, 48.65, 48.85, 48.7, 49.15, 48.8, 48.95],
  [48.8, 48.6, 48.95, 48.7, 48.4, 48.85, 48.75, 48.65],
  [48.7, 48.39, 48.8, 48.9, 48.6, 48.75, 48.85, 48.65],
  [48.9, 48.75, 49.05, 48.8, 48.95, 48.7, 48.85, 49.0],
  [48.85, 49.1, 48.75, 48.95, 48.8, 49.37, 48.9, 49.0],
  [48.95, 48.8, 49.15, 48.9, 48.55, 49.0, 48.85, 49.05],
  [48.85, 49.05, 48.75, 49.2, 48.9, 48.8, 48.95, 49.1],
  [49.0, 48.8, 49.1, 48.9, 48.7, 49.25, 48.95, 49.05],
  [48.9, 49.05, 48.75, 49.15, 48.85, 49.0, 48.95, 49.1],
];
const min2009 = [
  [48.95, 49.2, 48.8, 49.1, 48.9, 49.35, 49.05, 48.85],
  [49.05, 48.85, 49.25, 48.95, 49.1, 48.7, 49.0, 49.15],
  [48.9, 49.15, 49.0, 49.45, 48.85, 49.1, 49.05, 49.2],
  [49.2, 48.95, 49.1, 48.8, 49.3, 49.0, 49.05, 49.15],
  [49.0, 49.25, 48.9, 49.53, 49.1, 48.6, 49.15, 49.05],
  [49.1, 48.85, 49.3, 49.0, 48.95, 49.2, 49.05, 49.15],
  [48.33, 49.05, 49.25, 48.9, 49.15, 49.0, 49.1, 48.95],
  [49.1, 48.9, 49.3, 49.05, 49.45, 48.85, 49.2, 49.0],
  [49.0, 49.2, 48.95, 49.35, 49.1, 48.8, 49.05, 49.25],
  [49.15, 48.95, 49.3, 49.05, 49.2, 49.5, 49.1, 49.0],
  [49.05, 49.25, 48.9, 49.15, 49.0, 49.35, 49.1, 49.2],
  [49.2, 49.0, 49.4, 49.1, 48.95, 49.25, 49.05, 49.3],
];
const min2010 = [
  [49.1, 49.3, 48.95, 49.2, 49.45, 49.0, 49.25, 49.15],
  [49.25, 49.05, 49.4, 48.9, 49.15, 49.35, 49.1, 49.3],
  [49.0, 49.2, 48.63, 49.3, 49.1, 49.5, 49.15, 49.25],
  [49.2, 49.4, 49.05, 49.25, 48.9, 49.6, 49.3, 49.15],
  [49.3, 49.1, 49.5, 49.2, 49.0, 49.35, 49.25, 49.4],
  [49.4, 49.15, 49.6, 49.3, 49.9, 49.25, 49.35, 49.5],
  [49.5, 50.15, 49.35, 49.7, 49.9, 49.45, 49.6, 49.55],
  [49.6, 49.3, 49.75, 49.45, 49.9, 49.55, 49.5, 49.65],
  [49.4, 49.65, 49.25, 49.5, 49.7, 49.35, 49.45, 49.6],
  [49.55, 49.3, 49.7, 49.45, 49.2, 49.6, 49.5, 49.4],
  [49.45, 49.65, 49.35, 49.55, 49.04, 49.5, 49.4, 49.6],
  [49.6, 49.4, 49.7, 49.3, 49.5, 49.25, 49.45, 49.55],
];
const min2011 = [
  [49.4, 49.6, 49.25, 49.5, 49.95, 49.3, 49.45, 49.35],
  [49.5, 49.3, 50.0, 49.45, 49.15, 49.6, 49.4, 49.55],
  [49.35, 49.55, 49.2, 49.7, 49.4, 49.3, 49.45, 49.25],
  [49.45, 49.25, 49.6, 48.88, 49.5, 49.35, 49.4, 49.3],
  [49.3, 49.55, 49.15, 49.4, 49.75, 49.25, 49.35, 49.45],
  [49.4, 49.2, 49.5, 49.3, 49.6, 49.05, 49.35, 49.25],
  [49.25, 49.5, 49.1, 49.35, 49.75, 49.3, 49.4, 49.2],
  [49.4, 49.15, 49.55, 49.25, 49.45, 49.0, 49.3, 49.35],
  [49.3, 49.5, 49.05, 49.4, 49.2, 49.6, 49.35, 49.25],
  [49.2, 49.45, 48.9, 49.35, 49.1, 49.5, 49.3, 49.4],
  [49.35, 49.1, 49.55, 48.77, 49.3, 49.2, 49.25, 49.45],
  [49.15, 49.4, 49.0, 49.3, 49.5, 49.25, 49.35, 49.2],
];
const min2012 = [
  [49.2, 49.4, 49.05, 49.3, 49.55, 49.15, 49.25, 49.35],
  [49.3, 49.1, 49.45, 49.2, 48.95, 49.35, 49.25, 49.15],
  [49.15, 49.35, 49.0, 49.63, 49.25, 49.1, 49.3, 49.2],
  [49.25, 49.05, 49.4, 49.2, 48.85, 49.3, 49.15, 49.35],
  [49.1, 49.3, 48.9, 49.2, 49.45, 49.0, 49.25, 49.15],
  [49.2, 48.74, 49.35, 48.85, 49.1, 49.0, 49.25, 49.15],
  [49.5, 49.7, 49.3, 49.6, 49.23, 49.8, 49.65, 49.45],
  [49.6, 49.45, 49.75, 49.55, 49.85, 49.4, 49.65, 49.7],
  [49.55, 49.7, 49.45, 49.65, 49.5, 49.8, 49.6, 49.75],
  [49.65, 49.5, 49.8, 49.4, 49.7, 49.55, 49.6, 49.75],
  [49.5, 49.75, 49.6, 49.45, 49.8, 49.65, 49.7, 49.55],
  [49.7, 49.55, 49.8, 49.6, 49.45, 49.75, 49.65, 49.6],
];
const min2013 = [
  [49.6, 49.75, 49.5, 49.7, 49.45, 49.8, 49.65, 49.55],
  [49.7, 49.55, 49.8, 49.6, 49.75, 49.5, 49.65, 49.6],
  [49.55, 49.75, 49.65, 49.45, 49.8, 49.6, 49.7, 49.5],
  [49.65, 49.5, 49.75, 49.6, 49.4, 49.7, 49.55, 49.7],
  [49.5, 49.7, 49.3, 49.6, 49.8, 49.55, 49.65, 49.45],
  [49.6, 49.02, 49.7, 49.45, 49.2, 49.75, 49.65, 49.55],
  [49.55, 49.3, 49.7, 49.4, 49.65, 49.1, 49.6, 49.5],
  [49.6, 49.75, 49.35, 49.65, 49.5, 49.8, 49.55, 49.7],
  [49.7, 49.5, 49.6, 49.3, 49.75, 49.55, 49.65, 49.45],
  [49.55, 49.7, 49.45, 49.65, 49.8, 49.6, 49.6, 49.75],
  [49.65, 49.5, 49.75, 49.4, 49.6, 49.7, 49.55, 49.65],
  [49.5, 49.7, 49.3, 49.6, 49.75, 49.55, 49.65, 49.45],
];
const min2014 = [
  [49.6, 49.75, 49.45, 49.65, 49.35, 49.7],
  [49.7, 49.5, 49.75, 49.6, 49.4, 49.65],
  [49.55, 49.7, 49.3, 49.65, 49.5, 49.75],
  [49.65, 49.45, 49.7, 49.55, 49.75, 49.35],
  [49.5, 49.7, 49.6, 49.3, 49.65, 49.55],
  [49.7, 49.55, 49.75, 49.45, 49.6, 49.4],
  [49.6, 49.75, 49.5, 49.7, 49.55, 49.8],
  [49.65, 49.5, 49.75, 49.6, 49.7, 49.55],
  [49.7, 49.55, 49.8, 49.6, 49.5, 49.75],
  [49.6, 49.75, 49.55, 49.7, 49.65, 49.5],
  [49.7, 49.6, 49.8, 49.55, 49.75, 49.65],
  [49.65, 49.8, 49.55, 49.7, 49.6, 49.75],
];
const min2015 = [
  [49.7, 49.8, 49.65, 49.75, 49.6, 49.82],
  [49.75, 49.65, 49.8, 49.7, 49.85, 49.6],
  [49.7, 49.8, 49.62, 49.75, 49.68, 49.84],
  [49.78, 49.65, 49.82, 49.7, 49.75, 49.6],
  [49.68, 49.8, 49.72, 49.85, 49.65, 49.75],
  [49.75, 49.62, 49.8, 49.7, 49.55, 49.78],
  [49.7, 49.82, 49.65, 49.76, 49.8, 49.68],
  [49.8, 49.7, 49.85, 49.66, 49.75, 49.72],
  [49.72, 49.84, 49.68, 49.78, 49.62, 49.8],
  [49.78, 49.66, 49.82, 49.74, 49.85, 49.7],
  [49.7, 49.8, 49.65, 49.76, 49.84, 49.72],
  [49.76, 49.68, 49.84, 49.72, 49.8, 49.65],
];
const min2016 = [
  [49.78, 49.7, 49.85, 49.75, 49.82, 49.68],
  [49.72, 49.84, 49.76, 49.66, 49.8, 49.74],
  [49.8, 49.7, 49.86, 49.75, 49.68, 49.82],
  [49.74, 49.84, 49.7, 49.78, 49.86, 49.72],
  [49.82, 49.56, 49.76, 49.85, 49.7, 49.8],
  [49.76, 49.84, 49.72, 49.8, 49.68, 49.86],
  [49.8, 49.7, 49.85, 49.74, 49.82, 49.76],
  [49.72, 49.86, 49.78, 49.68, 49.84, 49.75],
  [49.84, 49.74, 49.8, 49.7, 49.86, 49.78],
  [49.76, 49.85, 49.7, 49.82, 49.75, 49.8],
  [49.8, 49.72, 49.86, 49.76, 49.68, 49.84],
  [49.74, 49.82, 49.76, 49.86, 49.72, 49.8],
];
const min2017 = [
  [49.8, 49.54, 49.85, 49.74, 49.82, 49.7],
  [49.76, 49.86, 50.2, 49.8, 49.7, 49.84],
  [49.82, 49.72, 49.86, 49.78, 49.84, 49.68],
  [49.75, 49.85, 49.8, 49.7, 49.87, 49.78],
  [49.84, 49.74, 49.8, 49.86, 49.72, 49.82],
  [49.78, 49.86, 49.7, 49.82, 49.76, 49.85],
  [49.84, 49.72, 49.8, 49.87, 49.75, 49.68],
  [49.76, 49.85, 49.7, 49.82, 49.86, 49.74],
  [49.82, 49.7, 49.86, 49.76, 49.8, 49.66],
  [49.75, 49.84, 49.72, 49.8, 49.7, 49.85],
];

const maxByYear = [
  max1998, max1999, max2000, max2001, max2002, max2003, max2004, max2005, max2006, max2007,
  max2008, max2009, max2010, max2011, max2012, max2013, max2014, max2015, max2016, max2017,
];
const minByYear = [
  min1998, min1999, min2000, min2001, min2002, min2003, min2004, min2005, min2006, min2007,
  min2008, min2009, min2010, min2011, min2012, min2013, min2014, min2015, min2016, min2017,
];

// Annotation texts
const note1 = ["Synchronisation  of WR", "and NER-ER Grid in", "March, 2003"];
const note2 = ["Synchronisation  of NR", "and WR-ER-NER Grid", "in August, 2006"];
const note3 = ["Synchronisation", "of NEW  and  SR", "Grid  in", "December, 2013"];
// Arrow ends in data units [months since Jan-98, Hz]
const arrowFrom = [[62.2, 51.17], [104.4, 50.7], [191.9, 50.75]];
const arrowTo = [[80.2, 52.49], [144.0, 52.36], [203.0, 51.97]];

// ---------- helpers ----------
function toPoints(byYear: number[][][]) {
  const pts: number[][] = [];
  byYear.forEach((months, yi) => {
    months.forEach((vals, mi) => {
      const m = yi * 12 + mi;
      vals.forEach((v, j) => {
        pts.push([m + (j + 0.5) / vals.length, v]);
      });
    });
  });
  return pts;
}

const SANS = '"Liberation Sans", Arial, Helvetica, sans-serif';
const SERIF = '"Liberation Serif", "Times New Roman", serif';
const INK = "#111111";

function noteGraphics(lines: string[], box: number[], textX: number, lineY: number[]) {
  const els: any[] = [
    {
      type: "rect",
      z: 50,
      shape: { x: box[0], y: box[1], width: box[2], height: box[3] },
      style: {
        fill: "#ffffff",
        stroke: "#333333",
        lineWidth: 1.6,
        shadowBlur: 3,
        shadowOffsetX: 2,
        shadowOffsetY: 2,
        shadowColor: "rgba(0,0,0,0.35)",
      },
    },
  ];
  lines.forEach((t, i) => {
    els.push({
      type: "text",
      z: 51,
      x: textX,
      y: lineY[i],
      scaleX: 1.2,
      style: {
        text: t,
        fill: INK,
        fontFamily: SERIF,
        fontWeight: "bold",
        fontSize: 27,
        verticalAlign: "middle",
        align: "left",
      },
    });
  });
  return els;
}

export default function App() {
  const ref = useRef<HTMLDivElement>(null);

  useEffect(() => {
    if (!ref.current) return;
    const chart = echarts.init(ref.current, undefined, { renderer: "svg" });
    const maxPts = toPoints(maxByYear);
    const minPts = toPoints(minByYear);

    const monthLabel = (v: number) => {
      const yy = String((START_YEAR + Math.floor(v / 12)) % 100).padStart(2, "0");
      if (v % 12 === 0) return "Jan-" + yy;
      if (v % 12 === 6) return "Jul-" + yy;
      return "";
    };

    const gridLine = { color: "#111111", type: [2, 2] as any, width: 1 };

    const option: any = {
      animation: false,
      backgroundColor: "#ffffff",
      grid: {
        left: 127,
        top: 20,
        right: 9,
        bottom: 156,
        show: true,
        borderColor: "#8a8a8a",
        borderWidth: 1,
        containLabel: false,
      },
      xAxis: {
        type: "value",
        min: 0,
        max: 242.5,
        interval: 6,
        axisLine: { show: true, onZero: false, lineStyle: { color: INK, width: 1.5 } },
        axisTick: { show: true, length: 7, lineStyle: { color: INK, width: 1 } },
        axisLabel: {
          rotate: 90,
          margin: 12,
          formatter: monthLabel,
          fontFamily: SANS,
          fontWeight: "bold",
          fontSize: 24,
          color: INK,
        },
        splitLine: { show: true, lineStyle: gridLine },
      },
      yAxis: {
        type: "value",
        min: 47,
        max: 54,
        interval: 1,
        axisLine: { show: true, lineStyle: { color: INK, width: 1.5 } },
        axisTick: { show: true, length: 8, lineStyle: { color: INK, width: 1 } },
        axisLabel: {
          margin: 24,
          fontFamily: SANS,
          fontWeight: "bold",
          fontSize: 26,
          color: INK,
        },
        splitLine: { show: true, lineStyle: gridLine },
      },
      legend: {
        data: ["MAXIMUM", "MINIMUM"],
        left: 708,
        top: 1002,
        orient: "horizontal",
        icon: "diamond",
        itemWidth: 7,
        itemHeight: 8,
        itemGap: 136,
        textStyle: { fontFamily: SANS, fontWeight: "bold", fontSize: 21, color: INK },
      },
      series: [
        {
          name: "MAXIMUM",
          type: "scatter",
          symbol: "diamond",
          symbolSize: [10, 12],
          itemStyle: { color: "#00007f" },
          large: false,
          progressive: 0,
          data: maxPts,
          z: 2,
        },
        {
          name: "MINIMUM",
          type: "scatter",
          symbol: "diamond",
          symbolSize: [10, 12],
          itemStyle: { color: "#ff00ff" },
          large: false,
          progressive: 0,
          data: minPts,
          z: 3,
          markLine: {
            silent: true,
            animation: false,
            symbol: ["none", "arrow"],
            symbolSize: [9, 13],
            label: { show: false },
            lineStyle: { color: "#e8302a", width: 1.5, type: "solid", opacity: 1 },
            emphasis: { disabled: true },
            data: arrowFrom.map((f, i) => [{ coord: f }, { coord: arrowTo[i] }]),
          },
        },
      ],
      graphic: [
        { type: "rect", z: 1, shape: { x: 0, y: 0, width: 972, height: 3 }, style: { fill: "#78b843" } },
        { type: "rect", z: 1, shape: { x: 968, y: 0, width: 894, height: 3.5 }, style: { fill: "#0b73b8" } },
        {
          type: "text",
          z: 5,
          x: 44,
          y: 478,
          rotation: Math.PI / 2,
          style: {
            text: "Hz -->",
            fill: INK,
            fontFamily: SANS,
            fontWeight: "bold",
            fontSize: 19,
            align: "center",
            verticalAlign: "middle",
          },
        },
        {
          type: "text",
          z: 5,
          x: 12,
          y: 938,
          scaleX: 1.15,
          style: {
            text: "Date -->",
            fill: INK,
            fontFamily: SERIF,
            fontWeight: "bold",
            fontSize: 21,
            align: "left",
            verticalAlign: "middle",
          },
        },
        {
          type: "rect",
          z: 0,
          shape: { x: 576, y: 994, width: 619, height: 60 },
          style: { fill: "#ffffff", stroke: "#333333", lineWidth: 1.3 },
        },
        ...noteGraphics(note1, [581, 61, 392, 128], 597, [86, 119, 153]),
        ...noteGraphics(note2, [1041, 91, 385, 119], 1057, [115, 148, 182]),
        ...noteGraphics(note3, [1526, 98, 292, 160], 1540, [121, 154, 188, 223]),
      ],
    };

    chart.setOption(option);
    return () => chart.dispose();
  }, []);

  return (
    <div
      ref={ref}
      style={{ position: "fixed", left: 0, top: 0, width: 1862, height: 1037, background: "#fff" }}
    />
  );
}
